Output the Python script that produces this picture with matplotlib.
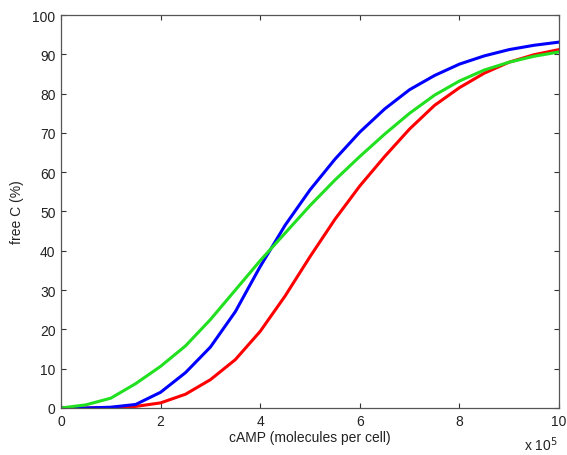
import numpy as np
import matplotlib
matplotlib.use("Agg")
import matplotlib.pyplot as plt

#----------------------------------------------------------------
# data (x in units of 1e5 molecules/cell)
#----------------------------------------------------------------
camp = [0, 0.5, 1, 1.5, 2, 2.5, 3, 3.5, 4, 4.5, 5,
        5.5, 6, 6.5, 7, 7.5, 8, 8.5, 9, 9.5, 10]

free_red = [0, 0, 0.1, 0.4, 1.3, 3.5, 7.2, 12.3, 19.5, 28.5, 38.5,
            48.0, 56.5, 64.0, 71.0, 77.0, 81.5, 85.2, 88.0, 89.9, 91.2]
free_blue = [0, 0, 0.2, 0.9, 4.0, 9.0, 15.5, 24.5, 36.0, 46.5, 55.5,
             63.3, 70.2, 76.1, 81.0, 84.6, 87.5, 89.6, 91.2, 92.3, 93.1]
free_green = [0, 0.8, 2.5, 6.2, 10.6, 15.8, 22.5, 30.0, 37.5, 44.5, 51.5,
              58.0, 64.0, 69.7, 75.0, 79.6, 83.2, 86.0, 88.0, 89.5, 90.6]

x_ticks = [0, 2, 4, 6, 8, 10]
y_ticks = list(range(0, 101, 10))

#----------------------------------------------------------------
# plot
#----------------------------------------------------------------
plt.rcParams['font.family'] = ['Liberation Sans', 'DejaVu Sans']

fig = plt.figure(figsize=(5.67, 4.56), dpi=100)
ax = fig.add_axes([0.1076, 0.1031, 0.8783, 0.8618])

ax.plot(camp, free_red, color='#ff0000', lw=2.2)
ax.plot(camp, free_blue, color='#0000ff', lw=2.2)
ax.plot(camp, free_green, color='#20e020', lw=2.2)

ax.set_xlim(0, 10)
ax.set_ylim(0, 100)
ax.set_xticks(x_ticks)
ax.set_yticks(y_ticks)
ax.tick_params(direction='in', length=3.5, width=0.8, top=True, right=True,
               labelsize=10, colors='#333333', labelcolor='#222222', pad=4)
for sp in ax.spines.values():
    sp.set_color('#555555')
    sp.set_linewidth(0.9)

ax.set_xlabel('cAMP (molecules per cell)', fontsize=10, color='#222222', labelpad=2)
ax.set_ylabel('free C (%)', fontsize=10, color='#222222', labelpad=6)
fig.text(0.984, 0.004, r'x 10$^5$', ha='right', va='bottom',
         fontsize=10, color='#222222')

fig.savefig('out.png', dpi=100)
